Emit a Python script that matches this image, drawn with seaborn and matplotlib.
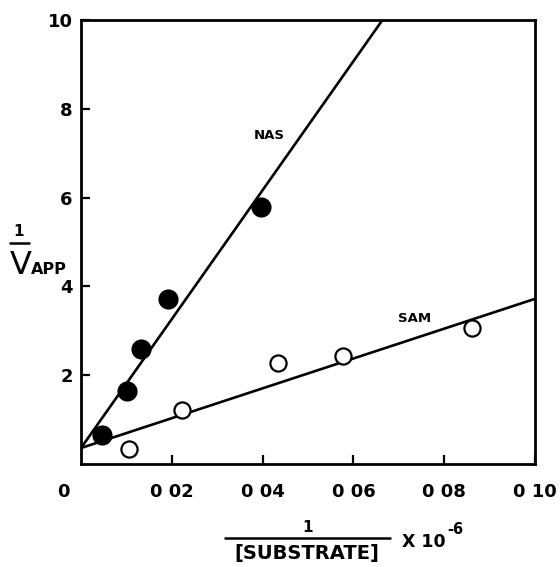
import matplotlib
matplotlib.use("Agg")
import matplotlib.pyplot as plt
import seaborn as sns
import pandas as pd
from matplotlib.lines import Line2D

# ---- data ----
nas_x = [0.0046, 0.0102, 0.0132, 0.0192, 0.0397]
nas_y = [0.65, 1.64, 2.59, 3.72, 5.79]
sam_x = [0.0106, 0.0223, 0.0433, 0.0576, 0.0861]
sam_y = [0.34, 1.22, 2.27, 2.43, 3.06]
nas_fit_x = [0.0, 0.0664]
nas_fit_y = [0.36, 10.0]
sam_fit_x = [0.0, 0.10]
sam_fit_y = [0.36, 3.72]
x_ticks = [0.02, 0.04, 0.06, 0.08, 0.10]
x_tick_labels = ["0 02", "0 04", "0 06", "0 08", "0 10"]
y_ticks = [2, 4, 6, 8, 10]
y_tick_labels = ["2", "4", "6", "8", "10"]

sns.set_style("ticks")
plt.rcParams["font.family"] = ["DejaVu Sans"]
plt.rcParams["font.weight"] = "bold"
plt.rcParams["text.color"] = "black"
plt.rcParams["axes.labelcolor"] = "black"
plt.rcParams["xtick.color"] = "black"
plt.rcParams["ytick.color"] = "black"

W, H = 560, 567
fig = plt.figure(figsize=(W / 100, H / 100), dpi=100)
ax = fig.add_axes([81 / W, 1 - 464 / H, (535 - 81) / W, (464 - 20) / H])

def fx(px):
    return px / W

def fy(py):
    return 1 - py / H

nas_fit = pd.DataFrame({"x": nas_fit_x, "y": nas_fit_y})
sam_fit = pd.DataFrame({"x": sam_fit_x, "y": sam_fit_y})
sns.lineplot(data=nas_fit, x="x", y="y", color="black", linewidth=1.9, ax=ax)
sns.lineplot(data=sam_fit, x="x", y="y", color="black", linewidth=1.9, ax=ax)

nas = pd.DataFrame({"x": nas_x, "y": nas_y})
sam = pd.DataFrame({"x": sam_x, "y": sam_y})
sns.scatterplot(data=nas, x="x", y="y", color="black", s=210, edgecolor="black",
                linewidth=0, ax=ax, zorder=5)
sns.scatterplot(data=sam, x="x", y="y", facecolor="white", s=135, edgecolor="black",
                linewidth=1.6, ax=ax, zorder=5)

ax.set_xlim(0, 0.10)
ax.set_ylim(0, 10)
ax.set_xlabel("")
ax.set_ylabel("")
ax.set_xticks(x_ticks)
ax.set_xticklabels(x_tick_labels)
ax.set_yticks(y_ticks)
ax.set_yticklabels(y_tick_labels)
for sp in ax.spines.values():
    sp.set_visible(True)
    sp.set_linewidth(2.0)
    sp.set_color("black")
ax.tick_params(axis="both", direction="in", length=6.5, width=1.6, labelsize=13,
               colors="black")
ax.tick_params(axis="x", pad=13.5)
ax.tick_params(axis="y", pad=6)
for lab in ax.get_xticklabels() + ax.get_yticklabels():
    lab.set_fontweight("bold")

# origin label
ax.annotate("0", xy=(0, 0), xycoords="data", xytext=(-13, -13.7),
            textcoords="offset points", ha="center", va="top",
            fontsize=13, fontweight="bold", color="black")

# line labels
ax.text(0.0415, 7.4, "NAS", ha="center", va="center", fontsize=9.5,
        fontweight="bold", color="black")
ax.text(0.0735, 3.27, "SAM", ha="center", va="center", fontsize=9.5,
        fontweight="bold", color="black")

# y axis label: 1 / V_APP
fig.text(fx(19), fy(232), "1", ha="center", va="center", fontsize=11, fontweight="bold")
fig.add_artist(Line2D([fx(10), fx(29)], [fy(243), fy(243)], color="black", linewidth=1.8,
                      transform=fig.transFigure))
fig.text(fx(10), fy(274), "V", ha="left", va="baseline", fontsize=23, fontweight="normal")
fig.text(fx(31), fy(274), "APP", ha="left", va="baseline", fontsize=11.5, fontweight="bold")

# x axis label: 1 / [SUBSTRATE]  X 10^-6
fig.text(fx(308), fy(527), "1", ha="center", va="center", fontsize=11, fontweight="bold")
fig.add_artist(Line2D([fx(225), fx(390)], [fy(538), fy(538)], color="black", linewidth=1.8,
                      transform=fig.transFigure))
fig.text(fx(307), fy(554), "[SUBSTRATE]", ha="center", va="center", fontsize=14,
         fontweight="bold")
fig.text(fx(402), fy(547), "X 10", ha="left", va="baseline", fontsize=12.5, fontweight="bold")
fig.text(fx(447), fy(534), "-6", ha="left", va="baseline", fontsize=10.5, fontweight="bold")

fig.savefig("out.png", dpi=100)
